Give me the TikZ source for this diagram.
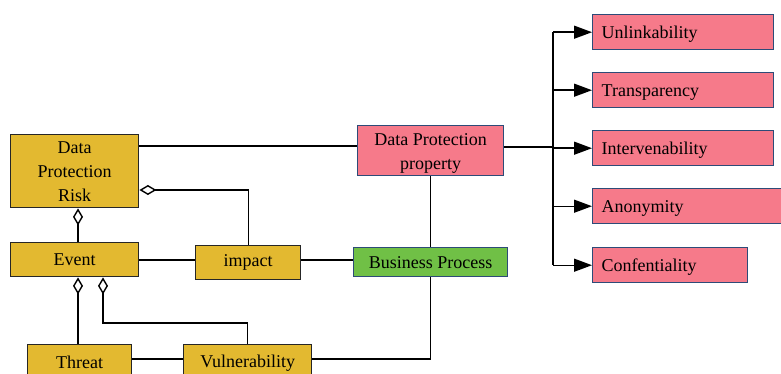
\documentclass[tikz,border=0pt]{standalone}
\usepackage{fontspec}
\setmainfont{Liberation Serif}
\usetikzlibrary{arrows.meta}
\definecolor{goldf}{RGB}{227,185,48}
\definecolor{pinkf}{RGB}{246,122,138}
\definecolor{greenf}{RGB}{112,192,70}
\definecolor{blueb}{RGB}{45,75,120}
\begin{document}
\begin{tikzpicture}[x=1pt,y=-1pt,
  box/.style={draw, line width=1.4pt, inner sep=0pt, anchor=north west,
    font=\fontsize{18}{24}\selectfont, align=center},
  gbox/.style={box, fill=goldf, draw=black!85},
  pbox/.style={box, fill=pinkf, draw=blueb},
  plist/.style={pbox, minimum height=35pt, inner xsep=9pt, align=left, text depth=0pt},
  grbox/.style={box, fill=greenf, draw=blueb},
  conn/.style={line width=1.4pt, draw=black},
  agg/.style={conn, {Diamond[fill=white,length=17pt,width=10pt]}-},
  arr/.style={conn, -{Triangle[length=18pt,width=13pt]}}]
\useasboundingbox (0,0) rectangle (781,374);
\clip (0,0) rectangle (781,374);
% nodes
\node[gbox, minimum width=128pt, minimum height=73pt] (dpr) at (10,134) {Data\\Protection\\Risk};
\node[gbox, minimum width=128pt, minimum height=34pt] (ev) at (10,242) {Event};
\node[gbox, minimum width=105pt, minimum height=34pt] (imp) at (195,245) {impact};
\node[gbox, minimum width=104pt, minimum height=36pt] (thr) at (27,344) {Threat};
\node[gbox, minimum width=128pt, minimum height=36pt] (vul) at (183,344) {Vulnerability};
\node[pbox, minimum width=146pt, minimum height=50pt] (dpp) at (357,125) {\rule{0pt}{18pt}Data Protection\\property};
\node[grbox, minimum width=154pt, minimum height=29pt] (bp) at (353,247) {Business Process};
\node[plist, text width=163pt] (un) at (592,14) {Unlinkability};
\node[plist, text width=163pt] (tp) at (592,72) {Transparency};
\node[plist, text width=163pt] (iv) at (592,130) {Intervenability};
\node[plist, text width=174pt] (an) at (592,188) {Anonymity};
\node[plist, text width=137pt] (cf) at (592,247) {Confentiality};
\coordinate (tr) at (553,147);
% connectors
\draw[conn] (dpr.east |- 0,146) -- (dpp.west |- 0,146);
\draw[agg] (dpr.east |- 0,190) -| (imp.north);
\draw[agg] (dpr.south -| 78,0) -- (ev.north -| 78,0);
\draw[conn] (ev.east |- 0,260) -- (imp.west |- 0,260);
\draw[conn] (imp.east |- 0,260) -- (bp.west |- 0,260);
\draw[agg] (ev.south -| 78,0) -- (thr.north -| 78,0);
\draw[agg] (ev.south -| 103,0) -- (103,323) -| (vul.north);
\draw[conn] (thr.east |- 0,359) -- (vul.west |- 0,359);
\draw[conn] (vul.east |- 0,359) -| (bp.south);
\draw[conn] (dpp.south) -- (bp.north);
\draw[conn] (dpp.east |- tr) -- (tr);
\draw[conn] (tr |- un.west) -- (tr |- cf.west);
\draw[arr] (tr |- un.west) -- (un.west);
\draw[arr] (tr |- tp.west) -- (tp.west);
\draw[arr] (tr |- iv.west) -- (iv.west);
\draw[arr] (tr |- an.west) -- (an.west);
\draw[arr] (tr |- cf.west) -- (cf.west);
\end{tikzpicture}
\end{document}
